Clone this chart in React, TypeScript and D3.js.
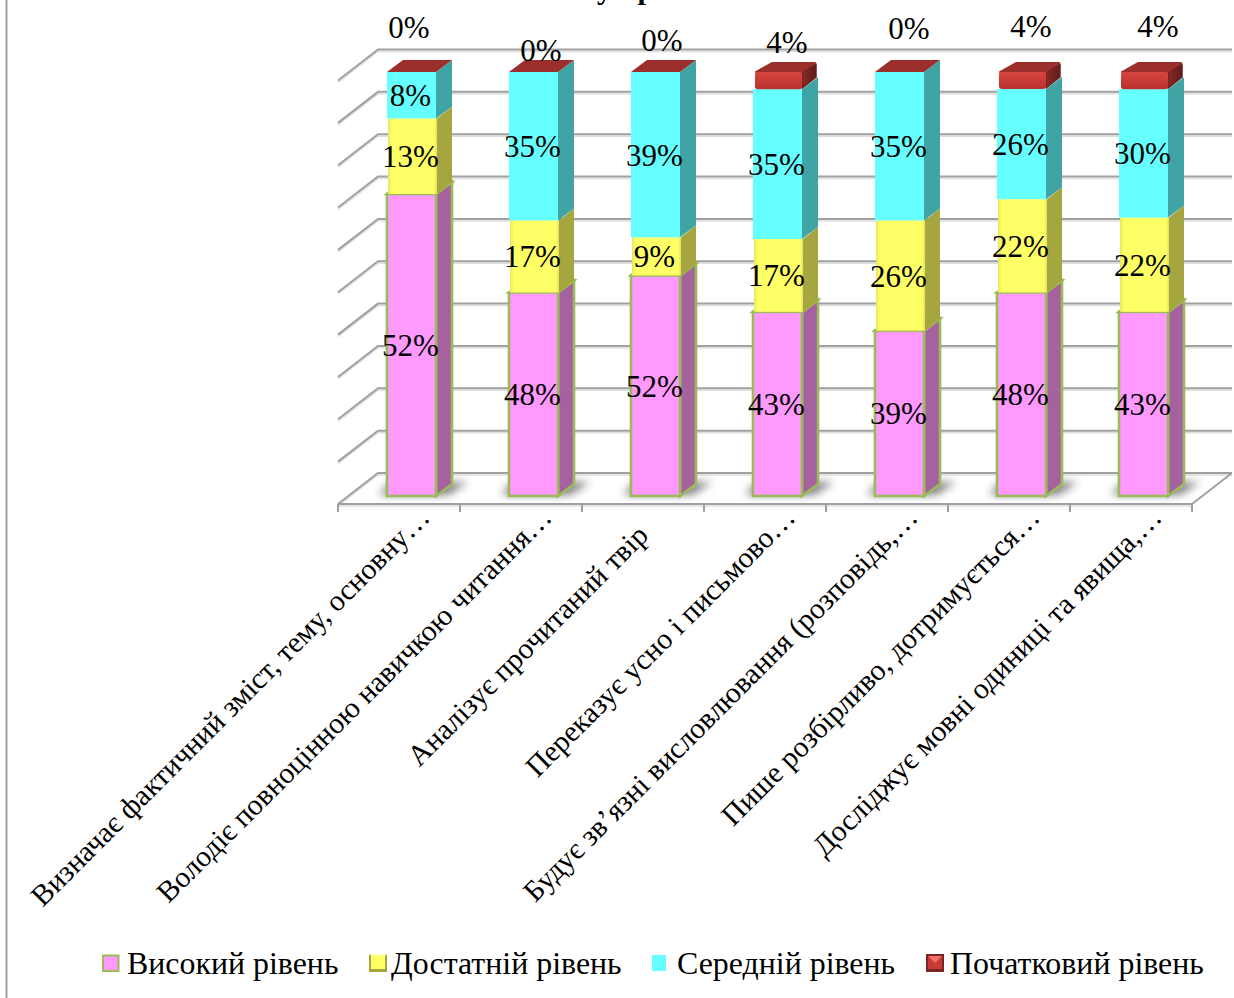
import React from "react";
import * as d3 from "d3";

const categories = [
  "Визначає фактичний зміст, тему, основну…",
  "Володіє повноцінною навичкою читання…",
  "Аналізує прочитаний твір",
  "Переказує усно і письмово…",
  "Будує зв’язні висловлювання (розповідь,…",
  "Пише розбірливо, дотримується…",
  "Досліджує мовні одиниці та явища,…",
];
const seriesNames = ["Високий рівень", "Достатній рівень", "Середній рівень", "Початковий рівень"];
const highLevel = [52, 48, 52, 43, 39, 48, 43];
const sufficientLevel = [13, 17, 9, 17, 26, 22, 22];
const mediumLevel = [8, 35, 39, 35, 35, 26, 30];
const initialLevel = [0, 0, 0, 4, 0, 4, 4];
const gridTicks = d3.range(0, 1.0001, 0.1);

// layout
const W = 1234, H = 998;
const FONT = "'Liberation Serif', serif";
const DX = 16, DY = -12;
const faces = [
  { front: "#FF99FF", side: "#A5629F", top: "#C47CC4" },
  { front: "#FFFF66", side: "#A6A640", top: "#C9C950" },
  { front: "#66FFFF", side: "#40A4A4", top: "#50C8C8" },
  { front: "#C93A36", side: "#6E2220", top: "#9C2E2C" },
];
const topLabelNudge = [[-3, 28], [7, 51], [6, 41], [9, 43], [9, 29], [9, 27], [14, 27]];
const legendKeyX = [102, 369, 652, 926];
const legendTextX = [127, 391, 677, 950];
const categoryLabelEnd = [[93.5, 519], [93.5, 519], [68, 537], [93, 519], [93.5, 519], [93.5, 519], [93.5, 519]];

const rows = categories.map((c, i) => ({
  c,
  0: highLevel[i],
  1: sufficientLevel[i],
  2: mediumLevel[i],
  3: initialLevel[i],
}));
const stacked = d3.stack<any>().keys([0, 1, 2, 3] as any).offset(d3.stackOffsetExpand)(rows);

const xAxis = d3.scalePoint<number>().domain(d3.range(categories.length + 1)).range([338, 1192]);
const xBand = d3.scaleBand<string>().domain(categories).range([338, 1192]).paddingInner(0.598).paddingOuter(0.299);
const barW = xBand.bandwidth();
const yFront = d3.scaleLinear().domain([0, 1]).range([496, 72]);
const yBack = d3.scaleLinear().domain([0, 1]).range([473, 49.5]);
const poly = (pts: [number, number][]) => d3.line()(pts) + "Z";

export default function App() {
  return (
    <div style={{ position: "fixed", left: 0, top: 0, width: W, height: H, background: "#fff" }}>
      <svg width={W} height={H} viewBox={`0 0 ${W} ${H}`} style={{ display: "block", fontFamily: FONT }}>
        <defs>
          <filter id="blur" x="-30%" y="-100%" width="160%" height="300%">
            <feGaussianBlur stdDeviation="4" />
          </filter>
          <linearGradient id="redFront" x1="0" y1="0" x2="0" y2="1">
            <stop offset="0" stopColor="#D8443F" />
            <stop offset="1" stopColor="#B8322E" />
          </linearGradient>
          <linearGradient id="redSide" x1="0" y1="0" x2="1" y2="0">
            <stop offset="0" stopColor="#8A2A28" />
            <stop offset="1" stopColor="#5E1C1B" />
          </linearGradient>
          <linearGradient id="yellowFront" x1="0" y1="0" x2="1" y2="0">
            <stop offset="0" stopColor="#E6E65C" />
            <stop offset="0.08" stopColor="#FFFF66" />
            <stop offset="0.94" stopColor="#FFFF66" />
            <stop offset="1" stopColor="#E0E05A" />
          </linearGradient>
        </defs>
        <rect width={W} height={H} fill="#fff" />
        <line x1={6.5} x2={6.5} y1={0} y2={H} stroke="#a0a0a0" strokeWidth={2} />
        <text y={-1} fontSize={30} fontWeight="bold" x="597 630">у р</text>

        {/* walls */}
        {gridTicks.map((t) => (
          <g key={t} fill="none">
            <path d={d3.line()([[338, yBack(t) + 33], [378, yBack(t) + 2], [1232, yBack(t) + 2]]) as string} stroke="#dedede" strokeWidth={1.5} />
            <path d={d3.line()([[338, yBack(t) + 31], [378, yBack(t)], [1232, yBack(t)]]) as string} stroke="#a0a0a0" strokeWidth={2} />
          </g>
        ))}
        <path d={d3.line()([[338, 504], [1192, 504], [1232, 473]]) as string} fill="none" stroke="#a0a0a0" strokeWidth={2} />
        <path d={d3.line()([[338, 506], [1192, 506]]) as string} fill="none" stroke="#dedede" strokeWidth={1.5} />
        {xAxis.domain().map((d) => (
          <line key={d} x1={xAxis(d)} x2={xAxis(d)} y1={504} y2={512} stroke="#a0a0a0" strokeWidth={2} />
        ))}

        {/* floor shadows */}
        {categories.map((c) => {
          const x = (xBand(c) as number) + 12.5;
          return (
            <path key={c} filter="url(#blur)" fill="#6a6a6a" opacity={0.85}
              d={poly([[x - 8, 495], [x + barW + 12, 495], [x + barW + 32, 482], [x + 4, 482]])} />
          );
        })}

        {/* bars */}
        {categories.map((c, i) => {
          const x = (xBand(c) as number) + 12.5;
          return (
            <g key={c}>
              {stacked.map((s, k) => {
                const [v0, v1] = s[i];
                const y0 = yFront(v0), y1 = yFront(v1);
                const f = faces[k];
                const empty = v1 - v0 === 0;
                if (k === 3 && empty) {
                  return (
                    <path key={k} fill={f.top}
                      d={poly([[x, y1], [x + DX, y1 + DY], [x + barW + DX, y1 + DY], [x + barW, y1]])} />
                  );
                }
                if (k === 3) {
                  return (
                    <g key={k}>
                      <path fill="url(#redSide)" stroke="#6E2220" strokeWidth={1.5} strokeLinejoin="round"
                        d={poly([[x + barW, y0 - 1], [x + barW + DX - 2, y0 + DY], [x + barW + DX - 2, y1 + DY + 4], [x + barW, y1]])} />
                      <path fill={f.top} stroke={f.top} strokeWidth={2} strokeLinejoin="round"
                        d={poly([[x + 3, y1], [x + DX + 3, y1 + DY + 3], [x + barW + DX - 3, y1 + DY + 3], [x + barW - 1, y1]])} />
                      <rect x={x + 2} y={y1} width={barW - 2} height={y0 - y1} rx={3} fill="url(#redFront)" />
                    </g>
                  );
                }
                const inset = k === 1 ? 1 : 0;
                const isPink = k === 0;
                return (
                  <g key={k} stroke={isPink ? "#9BBB59" : "none"} strokeWidth={isPink ? 2.6 : 0}>
                    <path fill={f.side} d={poly([[x + barW + inset, y0], [x + barW + DX, y0 + DY], [x + barW + DX, y1 + DY], [x + barW + inset, y1]])} />
                    {isPink && <path fill={f.top} d={poly([[x, y1], [x + DX, y1 + DY], [x + barW + DX, y1 + DY], [x + barW, y1]])} />}
                    <rect x={x + inset} y={y1} width={barW} height={y0 - y1} fill={k === 1 ? "url(#yellowFront)" : f.front} />
                  </g>
                );
              })}
            </g>
          );
        })}

        {/* value labels */}
        {categories.map((c, i) => {
          const x = (xBand(c) as number) + 12.5 + barW / 2;
          return (
            <g key={c} fontSize={31} textAnchor="middle" fill="#000">
              {stacked.slice(0, 3).map((s, k) => (
                <text key={k} x={x - 1} y={yFront((s[i][0] + s[i][1]) / 2) + 0.5} dy="0.34em">
                  {`${s[i].data[k]}%`}
                </text>
              ))}
              <text x={x + topLabelNudge[i][0] + 0.5} y={topLabelNudge[i][1] - 1} dy="0.34em">{`${initialLevel[i]}%`}</text>
            </g>
          );
        })}

        {/* category labels */}
        {categories.map((c, i) => (
          <text key={c} fontSize={29.6} textAnchor="end" fill="#000"
            transform={`translate(${(xAxis(i) as number) + categoryLabelEnd[i][0]},${categoryLabelEnd[i][1]}) rotate(-45)`}>
            {c}
          </text>
        ))}

        {/* legend */}
        <g>
          <rect x={legendKeyX[0] + 1} y={955.5} width={15.5} height={15.5} fill="#FF99FF" stroke="#9BBB59" strokeWidth={2} />
          <rect x={legendKeyX[1]} y={954} width={18} height={18} fill="#A6A640" />
          <path d={poly([[legendKeyX[1], 954], [legendKeyX[1] + 18, 954], [legendKeyX[1] + 9, 963]])} fill="#FFFFA8" />
          <rect x={legendKeyX[1] + 2} y={956} width={14} height={13} fill="#FFFF66" />
          <rect x={legendKeyX[2]} y={955} width={14} height={16} fill="#66FFFF" />
          <rect x={legendKeyX[3]} y={954} width={18} height={18} fill="#7A2523" />
          <rect x={legendKeyX[3] + 2} y={956} width={14} height={13} fill="#C93A36" />
          <path d={poly([[legendKeyX[3] + 2, 956], [legendKeyX[3] + 16, 956], [legendKeyX[3] + 9, 963]])} fill="#F0706A" />
          {seriesNames.map((n, i) => (
            <text key={n} x={legendTextX[i]} y={974} fontSize={31.9} fill="#000">{n}</text>
          ))}
        </g>
      </svg>
    </div>
  );
}
